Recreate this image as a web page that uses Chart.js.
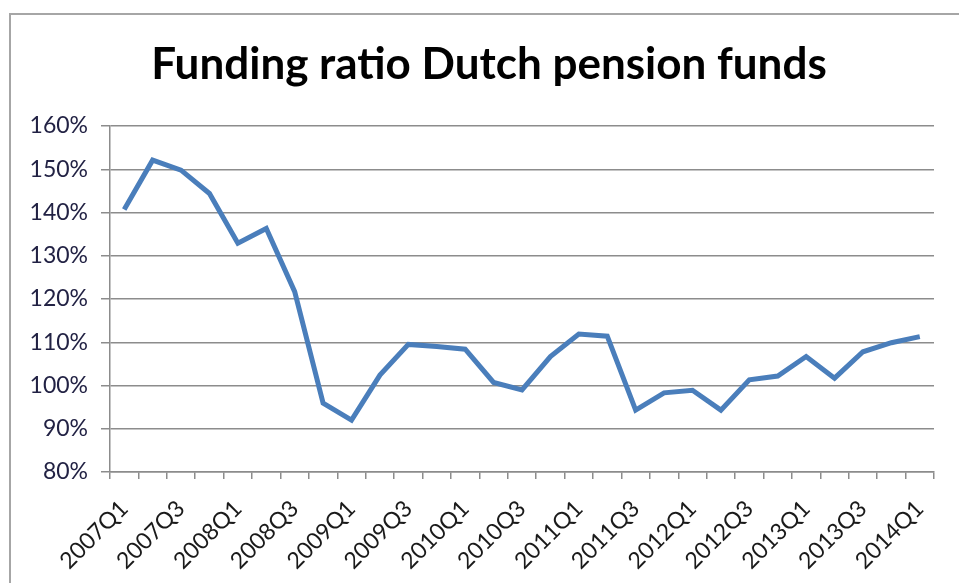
<!DOCTYPE html>
<html>
<head>
<meta charset="utf-8">
<script src="https://cdn.jsdelivr.net/npm/chart.js@4.4.1/dist/chart.umd.min.js"></script>
<style>
  html, body { margin: 0; padding: 0; background: #fff; overflow: hidden; }
  #wrap { position: relative; width: 959px; height: 583px; }
  #frame {
    position: absolute; left: 9px; top: 13px; width: 1000px; height: 620px;
    border-left: 2px solid #a6a6a6; border-top: 2px solid #a6a6a6;
  }
  #c { position: absolute; left: 0; top: 0; }
  #title {
    position: absolute; left: 9px; width: 960px; top: 40px;
    text-align: center; font: bold 44px/44px Lato, 'Open Sans', sans-serif;
    color: #000; white-space: nowrap;
  }
</style>
</head>
<body>
<div id="wrap">
  <div id="frame"></div>
  <canvas id="c" width="959" height="583"></canvas>
  <div id="title">Funding ratio Dutch pension funds</div>
</div>
<script>
// quarters on the x axis
const quarters = [
  "2007Q1", "2007Q2", "2007Q3", "2007Q4",
  "2008Q1", "2008Q2", "2008Q3", "2008Q4",
  "2009Q1", "2009Q2", "2009Q3", "2009Q4",
  "2010Q1", "2010Q2", "2010Q3", "2010Q4",
  "2011Q1", "2011Q2", "2011Q3", "2011Q4",
  "2012Q1", "2012Q2", "2012Q3", "2012Q4",
  "2013Q1", "2013Q2", "2013Q3", "2013Q4",
  "2014Q1",
];

// funding ratio (%)
const fundingRatio = [
  140.7, 152.1, 149.8, 144.4,
  132.9, 136.3, 121.7, 95.9,
  92.0, 102.4, 109.5, 109.0,
  108.4, 100.7, 99.0, 106.7,
  111.9, 111.4, 94.3, 98.3,
  98.9, 94.3, 101.3, 102.2,
  106.7, 101.7, 107.8, 109.9,
  111.3,
];

const Y_MIN = 80;
const Y_MAX = 160;
const Y_STEP = 10;

const FONT = "Lato, 'Open Sans', sans-serif";
const GRID = "#8c8c8c";

const ctx = document.getElementById("c").getContext("2d");

// title sits in the html above (centred on the outer frame, not the canvas)
new Chart(ctx, {
  type: "line",
  data: {
    labels: quarters,
    datasets: [{
      label: "Funding ratio",
      data: fundingRatio,
      borderColor: "#4a7ebb",
      borderWidth: 5,
      pointRadius: 0,
      tension: 0,
      fill: false,
    }],
  },
  options: {
    responsive: false,
    animation: false,
    layout: { padding: { left: 0, right: 25, top: 126, bottom: 0 } },
    plugins: {
      legend: { display: false },
      tooltip: { enabled: false },
      title: { display: false },
    },
    scales: {
      x: {
        offset: true,
        afterFit: (s) => { s.height = 111; },
        border: { color: GRID, width: 1.5 },
        grid: {
          offset: true,
          drawOnChartArea: false,
          drawTicks: true,
          tickLength: 7,
          color: GRID,
          lineWidth: 1.5,
        },
        ticks: {
          autoSkip: false,
          maxRotation: 45,
          minRotation: 45,
          padding: 16,
          color: "#1a1a1a",
          font: { family: FONT, size: 23 },
          callback: (v, i) => (i % 2 === 0 ? quarters[i] : ""),
        },
      },
      y: {
        min: Y_MIN,
        max: Y_MAX,
        afterFit: (s) => { s.width = 110; },
        border: { color: GRID, width: 1.5 },
        grid: {
          color: GRID,
          lineWidth: 1.5,
          tickLength: 9,
        },
        ticks: {
          stepSize: Y_STEP,
          padding: 13,
          color: "#222244",
          font: { family: FONT, size: 23 },
          callback: (v) => v + "%",
        },
      },
    },
  },
});
</script>
</body>
</html>
